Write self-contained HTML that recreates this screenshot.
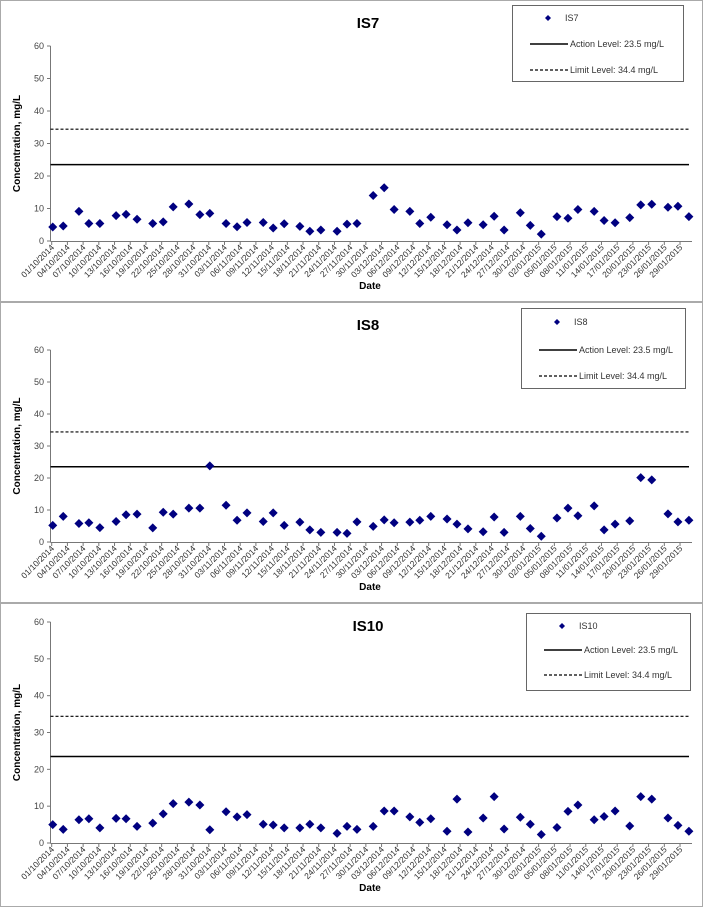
<!DOCTYPE html>
<html><head><meta charset="utf-8"><style>
html,body{margin:0;padding:0;background:#fff;}
svg{display:block;font-family:"Liberation Sans",Arial,sans-serif;}
</style></head><body>
<svg id="chart" width="704" height="908" viewBox="0 0 704 908" xmlns="http://www.w3.org/2000/svg"></svg>
<script>
const sampleDays = [0.2,2.2,5.2,7.1,9.2,12.3,14.2,16.3,19.3,21.3,23.2,26.2,28.3,30.2,33.3,35.4,37.3,40.4,42.3,44.4,47.4,49.3,51.4,54.5,56.4,58.3,61.4,63.5,65.4,68.4,70.3,72.4,75.5,77.4,79.5,82.4,84.5,86.4,89.5,91.4,93.5,96.5,98.6,100.5,103.6,105.5,107.6,110.4,112.5,114.6,117.7,119.6,121.7];
const is7Values = [4.3,4.6,9.1,5.4,5.4,7.8,8.2,6.7,5.4,5.9,10.5,11.4,8.1,8.5,5.4,4.4,5.7,5.7,4.0,5.3,4.5,3.0,3.4,3.0,5.2,5.4,14.0,16.4,9.7,9.1,5.4,7.3,5.0,3.4,5.6,5.0,7.6,3.4,8.7,4.8,2.1,7.5,7.0,9.7,9.1,6.3,5.6,7.2,11.1,11.3,10.4,10.7,7.5];
const is8Values = [5.2,8.0,5.8,6.0,4.5,6.4,8.5,8.7,4.4,9.3,8.7,10.6,10.6,23.8,11.5,6.8,9.1,6.4,9.1,5.2,6.2,3.8,3.0,3.0,2.7,6.3,4.9,6.9,6.0,6.2,6.8,8.0,7.2,5.6,4.1,3.2,7.8,3.0,8.0,4.2,1.8,7.5,10.6,8.2,11.3,3.8,5.6,6.6,20.1,19.4,8.8,6.3,6.8];
const is10Values = [5.0,3.7,6.3,6.6,4.1,6.7,6.6,4.5,5.4,7.9,10.7,11.1,10.3,3.6,8.5,7.1,7.7,5.1,4.9,4.1,4.1,5.1,4.1,2.6,4.5,3.7,4.5,8.7,8.7,7.1,5.6,6.6,3.2,11.9,3.0,6.8,12.6,3.8,7.0,5.1,2.3,4.2,8.6,10.3,6.3,7.2,8.7,4.6,12.6,11.9,6.8,4.8,3.2];
const actionLevel = 23.5;
const limitLevel = 34.4;
const yTicks = [0,10,20,30,40,50,60];
const xTickLabels = ["01/10/2014","04/10/2014","07/10/2014","10/10/2014","13/10/2014","16/10/2014","19/10/2014","22/10/2014","25/10/2014","28/10/2014","31/10/2014","03/11/2014","06/11/2014","09/11/2014","12/11/2014","15/11/2014","18/11/2014","21/11/2014","24/11/2014","27/11/2014","30/11/2014","03/12/2014","06/12/2014","09/12/2014","12/12/2014","15/12/2014","18/12/2014","21/12/2014","24/12/2014","27/12/2014","30/12/2014","02/01/2015","05/01/2015","08/01/2015","11/01/2015","14/01/2015","17/01/2015","20/01/2015","23/01/2015","26/01/2015","29/01/2015"];

const NS = "http://www.w3.org/2000/svg";
const svg = document.getElementById('chart');
function mk(tag, attrs, parent, text){
  const e = document.createElementNS(NS, tag);
  for (const k in attrs) e.setAttribute(k, attrs[k]);
  if (text !== undefined) e.textContent = text;
  parent.appendChild(e);
  return e;
}

const panels = [
  {name:'is7', title:'IS7', values:is7Values, top:0, bottom:302, yTop:46, yBot:241, leg:{x1:512,y1:5,x2:683,y2:81,r:[18,44,70]}},
  {name:'is8', title:'IS8', values:is8Values, top:302, bottom:603, yTop:350, yBot:542, leg:{x1:521,y1:308,x2:685,y2:388,r:[322,350,376]}},
  {name:'is10', title:'IS10', values:is10Values, top:603, bottom:907, yTop:622, yBot:843, leg:{x1:526,y1:613,x2:690,y2:690,r:[626,650,675]}}
];
const X0 = 51.7, PX_PER_DAY = 5.236, XAXIS_END = 692, LINE_END = 689;
function xScale(d){ return X0 + d*PX_PER_DAY; }

panels.forEach(p => {
  const g = mk('g', {}, svg);
  
  
  const yScale = v => p.yBot - (v/60)*(p.yBot - p.yTop);

  const frame = mk('rect', {x:0.5, y:p.top+0.5, width:702, height:p.bottom-p.top-1, fill:'none', stroke:'#555', 'stroke-width':1, 'stroke-dasharray':'1,1'}, g);
  
  

  const title = mk('text', {x:368, y:p.top+28, 'text-anchor':'middle', 'font-size':15, 'font-weight':'bold', fill:'#000'}, g, p.title);
  
  

  // y axis
  const yAxis = mk('line', {x1:50.5, y1:p.yTop, x2:50.5, y2:p.yBot, stroke:'#777', 'stroke-width':1}, g);
  
  
  yTicks.forEach(t => {
    const y = yScale(t);
    mk('line', {x1:47, y1:y, x2:50.5, y2:y, stroke:'#777'}, g);
    const lbl = mk('text', {x:44, y:y+3, 'text-anchor':'end', 'font-size':9, fill:'#444'}, g, String(t));
    
    
  });
  const midY = (p.yTop + p.yBot)/2;
  const yt = mk('text', {x:0, y:0, transform:`translate(20,${midY}) rotate(-90)`, 'text-anchor':'middle', 'font-size':10, 'font-weight':'bold', fill:'#000'}, g, 'Concentration, mg/L');
  
  

  // x axis
  const xAxis = mk('line', {x1:50.5, y1:p.yBot+0.5, x2:XAXIS_END, y2:p.yBot+0.5, stroke:'#777', 'stroke-width':1}, g);
  
  
  xTickLabels.forEach((lab, i) => {
    const x = xScale(i*3);
    mk('line', {x1:x, y1:p.yBot, x2:x, y2:p.yBot+4, stroke:'#777'}, g);
    const t = mk('text', {x:0, y:0, transform:`translate(${x+3},${p.yBot+7}) rotate(-45)`, 'text-anchor':'end', 'font-size':8.5, fill:'#333'}, g, lab);
    
    
  });
  const xt = mk('text', {x:370, y:p.yBot+48, 'text-anchor':'middle', 'font-size':10, 'font-weight':'bold', fill:'#000'}, g, 'Date');
  
  

  // reference lines
  const al = mk('line', {x1:50.5, y1:yScale(actionLevel), x2:LINE_END, y2:yScale(actionLevel), stroke:'#000', 'stroke-width':1.5}, g);
  
  
  const ll = mk('line', {x1:50.5, y1:yScale(limitLevel), x2:LINE_END, y2:yScale(limitLevel), stroke:'#000', 'stroke-width':1.2, 'stroke-dasharray':'3,2'}, g);
  
  

  // points
  p.values.forEach((v, i) => {
    const cx = xScale(sampleDays[i]), cy = yScale(v);
    const pt = mk('polygon', {points:`${cx},${cy-4.5} ${cx+4.5},${cy} ${cx},${cy+4.5} ${cx-4.5},${cy}`, fill:'#000080'}, g);
    
    
  });

  // legend
  const L = p.leg;
  const lg = mk('g', {}, g);
  
  
  mk('rect', {x:L.x1+0.5, y:L.y1+0.5, width:L.x2-L.x1, height:L.y2-L.y1, fill:'#fff', stroke:'#666', 'stroke-width':1}, lg);
  const lx = L.x1 + 18;
  const dx = L.x1 + 36;
  const e1 = mk('polygon', {points:`${dx},${L.r[0]-3} ${dx+3},${L.r[0]} ${dx},${L.r[0]+3} ${dx-3},${L.r[0]}`, fill:'#000080'}, lg);
  
  
  const t1 = mk('text', {x:lx+35, y:L.r[0]+3, 'font-size':9, fill:'#333'}, lg, p.title);
  
  
  mk('line', {x1:lx, y1:L.r[1], x2:lx+38, y2:L.r[1], stroke:'#000', 'stroke-width':1.5}, lg);
  const t2 = mk('text', {x:lx+40, y:L.r[1]+3, 'font-size':9, fill:'#333'}, lg, 'Action Level: 23.5 mg/L');
  
  
  mk('line', {x1:lx, y1:L.r[2], x2:lx+38, y2:L.r[2], stroke:'#000', 'stroke-width':1.2, 'stroke-dasharray':'3,2'}, lg);
  const t3 = mk('text', {x:lx+40, y:L.r[2]+3, 'font-size':9, fill:'#333'}, lg, 'Limit Level: 34.4 mg/L');
  
  
});
</script>
</body></html>
